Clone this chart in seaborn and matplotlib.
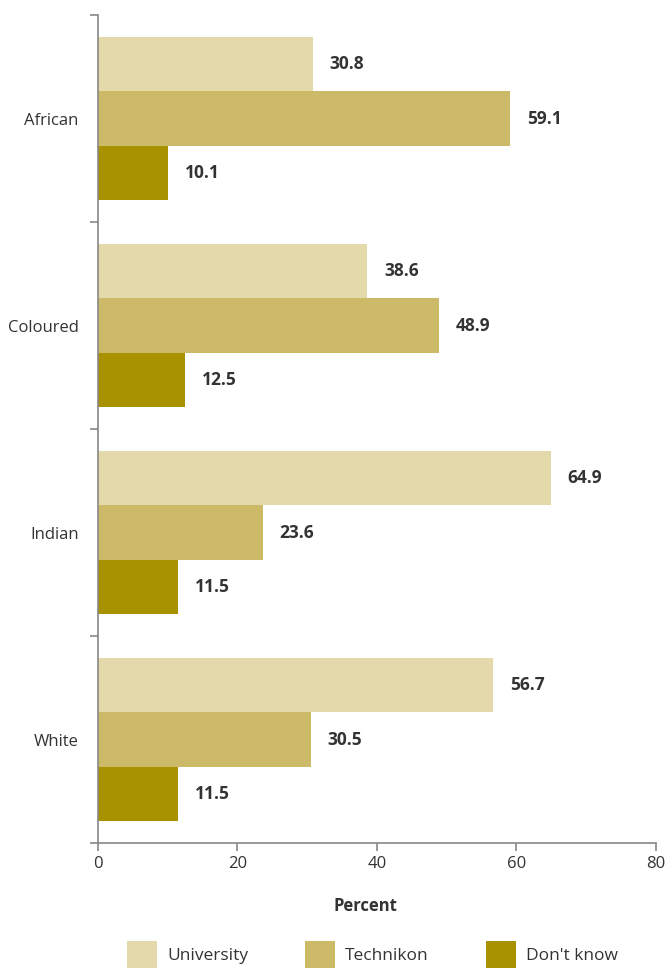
import matplotlib
matplotlib.use("Agg")
import matplotlib.pyplot as plt
import seaborn as sns
import pandas as pd
from matplotlib.patches import Patch
from matplotlib.ticker import FixedLocator

groups = ["African", "Coloured", "Indian", "White"]
series = ["University", "Technikon", "Don't know"]
university = [30.8, 38.6, 64.9, 56.7]
technikon = [59.1, 48.9, 23.6, 30.5]
dont_know = [10.1, 12.5, 11.5, 11.5]
colors = ["#E3D9AB", "#CCBA68", "#A89200"]

rows = []
for name, vals in zip(series, [university, technikon, dont_know]):
    for g, v in zip(groups, vals):
        rows.append({"Group": g, "Series": name, "Percent": v})
df = pd.DataFrame(rows)

sns.set_style("white")
plt.rcParams["font.family"] = ["Open Sans", "DejaVu Sans"]

fig = plt.figure(figsize=(6.69, 9.68), dpi=100)
ax = fig.add_axes([0.1465, 0.129, 0.834, 0.8555])

sns.barplot(data=df, y="Group", x="Percent", hue="Series", order=groups,
            hue_order=series, palette=colors, orient="h", width=0.79,
            saturation=1, linewidth=0, edgecolor="none", ax=ax, legend=False)

for cont in ax.containers:
    ax.bar_label(cont, fmt="%.1f", padding=12, fontsize=12.5, fontweight="bold",
                 color="#333333")

ax.set_xlim(0, 80)
ax.set_ylim(3.5, -0.5)
ax.set_xticks([0, 20, 40, 60, 80])
ax.yaxis.set_minor_locator(FixedLocator([-0.5, 0.5, 1.5, 2.5, 3.5]))
ax.tick_params(axis="y", which="major", length=0, labelsize=12, colors="#333333", pad=14)
ax.tick_params(axis="y", which="minor", length=6, width=1.2, color="#888888", left=True)
ax.tick_params(axis="x", which="major", length=6, width=1.2, color="#888888",
               labelsize=12, labelcolor="#333333", bottom=True)
for s in ["top", "right"]:
    ax.spines[s].set_visible(False)
for s in ["left", "bottom"]:
    ax.spines[s].set_color("#888888")
    ax.spines[s].set_linewidth(1.2)
ax.set_ylabel("")
ax.set_xlabel("Percent", fontsize=12, fontweight="bold", color="#333333")
ax.xaxis.set_label_coords(0.48, -0.065)

handles = [Patch(facecolor=c, edgecolor="none") for c in colors]
fig.legend(handles, series, loc="lower center", bbox_to_anchor=(0.557, -0.016), ncol=3,
           frameon=False, fontsize=12.5, handlelength=1.7, handleheight=2.0,
           columnspacing=3.3, handletextpad=0.6, labelcolor="#333333")

fig.savefig("out.png", dpi=100)
